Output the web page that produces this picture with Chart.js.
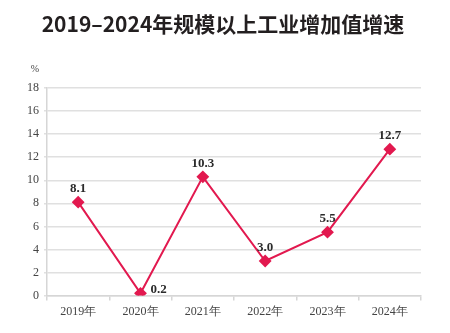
<!DOCTYPE html>
<html>
<head>
<meta charset="utf-8">
<script src="https://cdn.jsdelivr.net/npm/chart.js@4"></script>
<style>
  html, body { margin: 0; padding: 0; background: #fff; }
  #wrap { width: 450px; height: 333px; position: relative; }
</style>
</head>
<body>
<div id="wrap"><canvas id="c" width="450" height="333"></canvas></div>
<script>
// Growth of value added of industrial enterprises above designated size, %
const years = ['2019年', '2020年', '2021年', '2022年', '2023年', '2024年'];
const growth = [8.1, 0.2, 10.3, 3.0, 5.5, 12.7];
const yTicks = [0, 2, 4, 6, 8, 10, 12, 14, 16, 18];
const titleText = '2019–2024年规模以上工业增加值增速';
const unitText = '%';

// where each value label sits relative to its point
const labelPlacement = ['top', 'right', 'top', 'top', 'top', 'top'];

const serif = '"Liberation Serif", "DejaVu Serif", serif';
const cjk = '"Noto Sans CJK SC", "Noto Sans", sans-serif';

const valueLabels = {
  id: 'valueLabels',
  afterDatasetsDraw(chart) {
    const ctx = chart.ctx;
    const meta = chart.getDatasetMeta(0);
    ctx.save();
    ctx.font = 'bold 13px ' + serif;
    ctx.fillStyle = '#2b2b2b';
    meta.data.forEach((pt, i) => {
      const txt = growth[i].toFixed(1);
      if (labelPlacement[i] === 'right') {
        ctx.textAlign = 'left';
        ctx.textBaseline = 'middle';
        ctx.fillText(txt, pt.x + 10, pt.y - 4);
      } else {
        ctx.textAlign = 'center';
        ctx.textBaseline = 'bottom';
        ctx.fillText(txt, pt.x, pt.y - 7);
      }
    });
    ctx.restore();
  }
};

// chart heading and unit mark
const headings = {
  id: 'headings',
  afterDraw(chart) {
    const ctx = chart.ctx;
    const y = chart.scales.y;
    ctx.save();
    ctx.font = 'bold 21px ' + cjk;
    ctx.fillStyle = '#231f20';
    ctx.textAlign = 'center';
    ctx.textBaseline = 'middle';
    ctx.fillText(titleText, chart.width / 2 - 2, 24);

    ctx.font = '10px ' + serif;
    ctx.fillStyle = '#444';
    ctx.fillText(unitText, y.right - 12, y.top - 19);
    ctx.restore();
  }
};

new Chart(document.getElementById('c'), {
  type: 'line',
  data: {
    labels: years,
    datasets: [{
      data: growth,
      borderColor: '#e2194f',
      backgroundColor: '#e2194f',
      borderWidth: 2,
      pointStyle: 'rectRot',
      pointRadius: 5,
      pointHoverRadius: 5,
      tension: 0
    }]
  },
  options: {
    responsive: false,
    animation: false,
    devicePixelRatio: 1,
    layout: { padding: { left: 0, right: 29, top: 88, bottom: 10 } },
    plugins: {
      legend: { display: false },
      tooltip: { enabled: false },
      title: { display: false }
    },
    scales: {
      x: {
        offset: true,
        grid: {
          offset: true,
          drawOnChartArea: false,
          drawTicks: true,
          tickLength: 5,
          color: '#d6d6d6',
          lineWidth: 1.5
        },
        border: { display: true, color: '#d6d6d6', width: 1.5 },
        ticks: {
          color: '#444',
          font: { family: serif, size: 12 },
          padding: 4
        }
      },
      y: {
        min: 0,
        max: 18,
        afterBuildTicks(scale) {
          scale.ticks = yTicks.map(v => ({ value: v }));
        },
        afterFit(scale) { scale.width = 47; },
        grid: {
          color: '#e0e0e0',
          lineWidth: 1.5,
          drawTicks: true,
          tickLength: 3
        },
        border: { display: true, color: '#d6d6d6', width: 1.5 },
        ticks: {
          color: '#444',
          font: { family: serif, size: 12 },
          padding: 5
        }
      }
    }
  },
  plugins: [valueLabels, headings]
});
</script>
</body>
</html>
